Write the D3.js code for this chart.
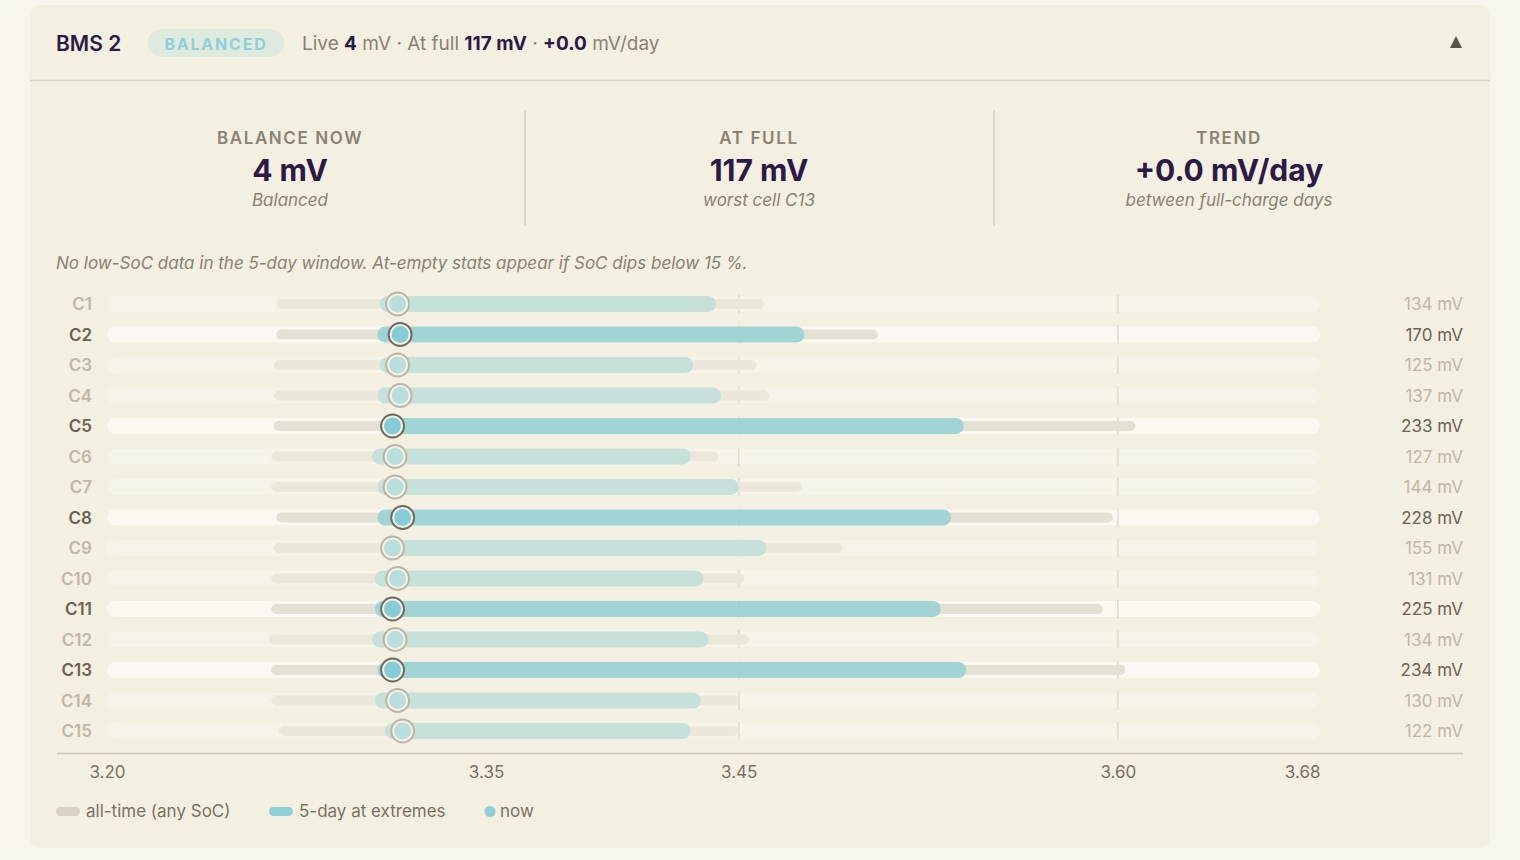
<!DOCTYPE html>
<html><head><meta charset="utf-8">
<script src="https://cdn.jsdelivr.net/npm/d3@7"></script>
<style>
body{margin:0;background:#f8f5ec;font-family:Inter,"Noto Sans",sans-serif;}
</style></head>
<body><svg id="chart" width="1520" height="860"></svg>
<script>
// cell data (volts)
const cells = ["C1","C2","C3","C4","C5","C6","C7","C8","C9","C10","C11","C12","C13","C14","C15"];
const allMin = [3.267,3.267,3.266,3.266,3.266,3.265,3.265,3.267,3.266,3.265,3.265,3.264,3.265,3.265,3.268];
const allMax = [3.460,3.505,3.457,3.462,3.607,3.442,3.475,3.598,3.491,3.452,3.594,3.454,3.603,3.450,3.450];
const dayMin = [3.308,3.307,3.308,3.307,3.308,3.305,3.307,3.307,3.308,3.306,3.306,3.305,3.307,3.306,3.310];
const dayMax = [3.441,3.476,3.432,3.443,3.539,3.431,3.450,3.534,3.461,3.436,3.530,3.438,3.540,3.435,3.431];
const nowV   = [3.315,3.316,3.315,3.316,3.313,3.314,3.314,3.317,3.313,3.315,3.313,3.314,3.313,3.315,3.317];
const spread = [134,170,125,137,233,127,144,228,155,131,225,134,234,130,122];
const ticks = [3.20,3.35,3.45,3.60,3.68];
const gridTicks = [3.45,3.60];
const highlight = ["C2","C5","C8","C11","C13"];

const svg = d3.select("#chart");
const ink = "#2a1a45", muted = "#8a8272";

// card
svg.append("rect").attr("x",30).attr("y",5).attr("width",1460).attr("height",843).attr("rx",10).attr("fill","#f3efe1");
svg.append("line").attr("x1",30).attr("x2",1490).attr("y1",80.5).attr("y2",80.5).attr("stroke","#d9d3c2").attr("stroke-width",1.5);

// header
const h = svg.append("text").attr("y",51).attr("font-size",19);
h.append("tspan").attr("x",56).attr("font-size",21).attr("font-weight",600).attr("fill",ink).text("BMS 2");
svg.append("rect").attr("x",148).attr("y",29).attr("width",136).attr("height",28).attr("rx",14).attr("fill","#dfeadf");
svg.append("text").attr("x",216).attr("y",50).attr("text-anchor","middle").attr("font-size",16).attr("font-weight",700)
  .attr("letter-spacing",1.8).attr("fill","#8fd0d8").text("BALANCED");
const h2 = svg.append("text").attr("x",302).attr("y",50).attr("font-size",19).attr("fill",muted);
h2.append("tspan").text("Live ");
h2.append("tspan").attr("fill",ink).attr("font-weight",700).text("4");
h2.append("tspan").text(" mV    ·    At full ");
h2.append("tspan").attr("fill",ink).attr("font-weight",700).text("117 mV");
h2.append("tspan").text("    ·    ");
h2.append("tspan").attr("fill",ink).attr("font-weight",700).text("+0.0");
h2.append("tspan").text(" mV/day");
svg.append("path").attr("d","M1450,48 L1456,36 L1462,48 Z").attr("fill","#5a5448");

// stat panels
const stats = [
  {t:"BALANCE NOW", v:"4 mV", s:"Balanced", cx:290},
  {t:"AT FULL", v:"117 mV", s:"worst cell C13", cx:759},
  {t:"TREND", v:"+0.0 mV/day", s:"between full-charge days", cx:1229}
];
[525,994].forEach(x => svg.append("line").attr("x1",x).attr("x2",x).attr("y1",110).attr("y2",226).attr("stroke","#d6d0bf").attr("stroke-width",1.5));
stats.forEach(s => {
  svg.append("text").attr("x",s.cx).attr("y",144).attr("text-anchor","middle").attr("font-size",17).attr("font-weight",600)
    .attr("letter-spacing",1.6).attr("fill",muted).text(s.t);
  svg.append("text").attr("x",s.cx).attr("y",181).attr("text-anchor","middle").attr("font-size",30).attr("font-weight",700).attr("fill",ink).text(s.v);
  svg.append("text").attr("x",s.cx).attr("y",206).attr("text-anchor","middle").attr("font-size",17).attr("font-style","italic").attr("fill",muted).text(s.s);
});
svg.append("text").attr("x",56).attr("y",269).attr("font-size",17).attr("font-style","italic").attr("fill",muted)
  .text("No low-SoC data in the 5-day window. At-empty stats appear if SoC dips below 15 %.");

// scales
const x = d3.scaleLinear().domain([3.20,3.68]).range([107,1320]);
const y = d3.scalePoint().domain(cells).range([304,731]);

const rows = svg.append("g").selectAll("g").data(cells).join("g")
  .attr("transform", d => `translate(0,${y(d)})`);
rows.each(function(c,i){
  const g = d3.select(this), hi = highlight.includes(c);
  g.append("rect").attr("x",x(3.20)).attr("y",-8).attr("width",x(3.68)-x(3.20)).attr("height",16).attr("rx",8)
    .attr("fill", hi ? "#fbf8f2" : "#f6f3e8");
  gridTicks.forEach(t => g.append("line").attr("x1",x(t)).attr("x2",x(t)).attr("y1",-9).attr("y2",9).attr("stroke","#e0dbcc").attr("stroke-width",1.5));
  g.append("rect").attr("x",x(allMin[i])).attr("y",-5).attr("width",x(allMax[i])-x(allMin[i])).attr("height",10).attr("rx",5)
    .attr("fill", hi ? "#e4e0d4" : "#ebe7db");
  g.append("rect").attr("x",x(dayMin[i])).attr("y",-8).attr("width",x(dayMax[i])-x(dayMin[i])).attr("height",16).attr("rx",8)
    .attr("fill", hi ? "#a2d4d6" : "#c6e1da");
  g.append("circle").attr("cx",x(nowV[i])).attr("r",10).attr("fill", hi ? "#86ccd6" : "#b8dfdc")
    .attr("stroke", hi ? "#f4f1e6" : "#f4f1e6").attr("stroke-width",3);
  g.append("circle").attr("cx",x(nowV[i])).attr("r",11.5).attr("fill","none")
    .attr("stroke", hi ? "#6f6c62" : "#bdb6a6").attr("stroke-width",2);
  g.append("text").attr("x",92).attr("y",6).attr("text-anchor","end").attr("font-size",17).attr("font-weight",600)
    .attr("fill", hi ? "#6b6353" : "#bfb8a8").text(c);
  g.append("text").attr("x",1463).attr("y",6).attr("text-anchor","end").attr("font-size",17)
    .attr("fill", hi ? "#6b6353" : "#bfb8a8").text(spread[i] + " mV");
});

// axis
svg.append("line").attr("x1",57).attr("x2",1463).attr("y1",753.5).attr("y2",753.5).attr("stroke","#d0cabb").attr("stroke-width",1.5);
const ax = svg.append("g").attr("transform","translate(0,754)")
  .call(d3.axisBottom(x).tickValues(ticks).tickFormat(d3.format(".2f")).tickSize(0).tickPadding(12));
ax.select(".domain").remove();
ax.selectAll("text").attr("font-size",17).attr("fill","#7a7264").attr("font-family","Inter,'Noto Sans',sans-serif")
  .attr("text-anchor", d => d === 3.68 ? "end" : "middle");

// legend
const legend = [
  {label:"all-time (any SoC)", x:56, kind:"bar", fill:"#d8d3c4"},
  {label:"5-day at extremes", x:269, kind:"bar", fill:"#8fd0d8"},
  {label:"now", x:484, kind:"dot", fill:"#8fd0d8"}
];
legend.forEach(l => {
  if (l.kind === "bar") svg.append("rect").attr("x",l.x).attr("y",807).attr("width",24).attr("height",9).attr("rx",4.5).attr("fill",l.fill);
  else svg.append("circle").attr("cx",l.x+6).attr("cy",811.5).attr("r",5.5).attr("fill",l.fill);
  svg.append("text").attr("x",l.x + (l.kind==="bar"?30:16)).attr("y",817).attr("font-size",17).attr("fill","#7a7264").text(l.label);
});
</script></body></html>
